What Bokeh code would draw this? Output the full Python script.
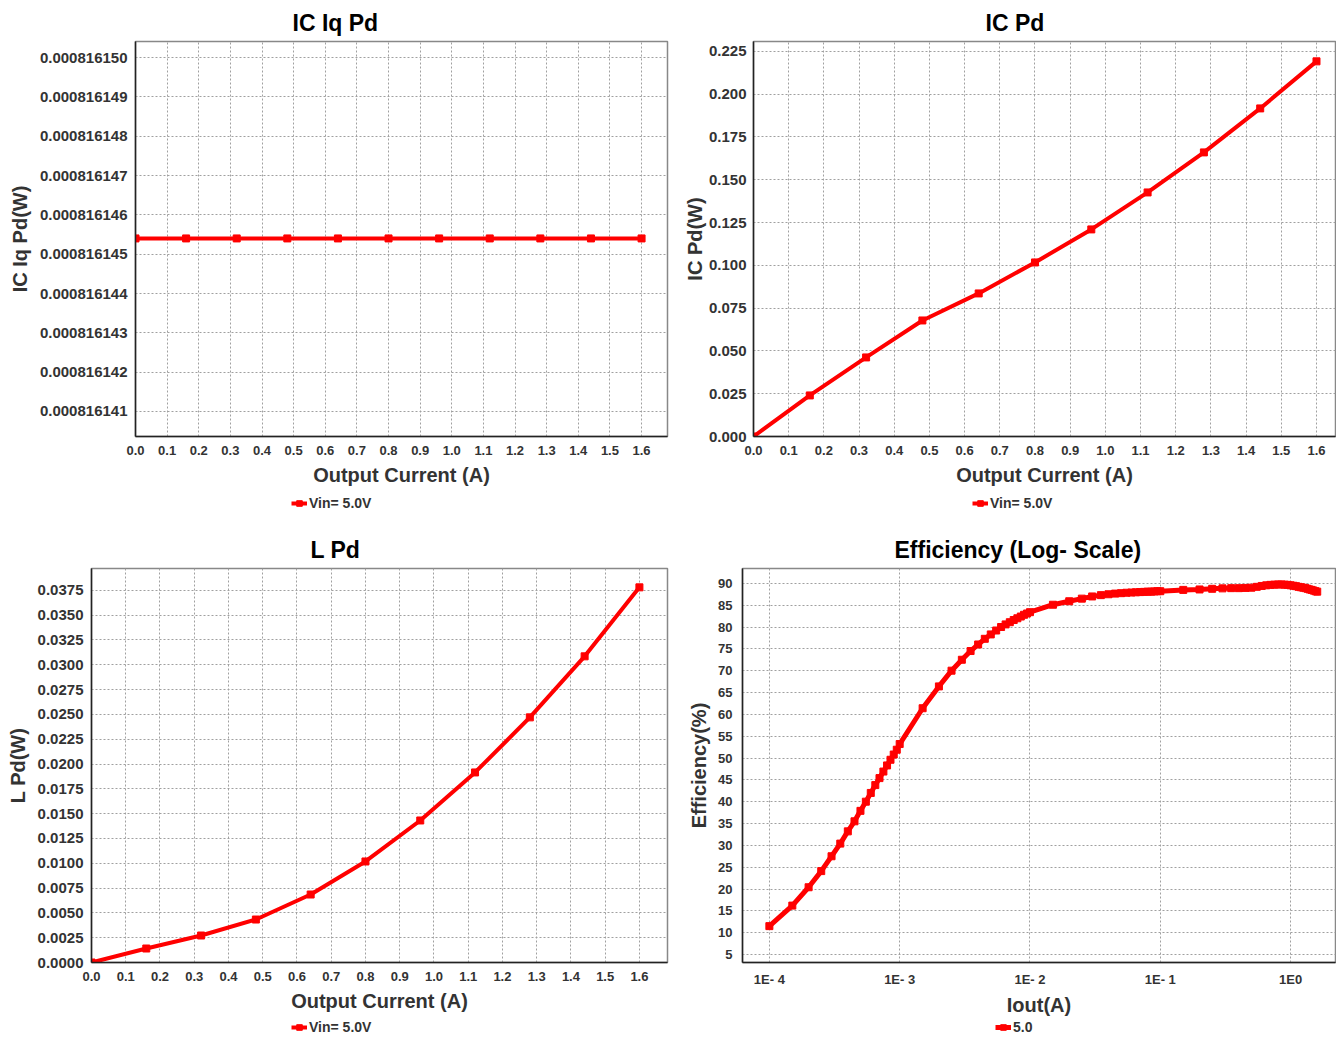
from bokeh.plotting import figure
from bokeh.models import (FixedTicker, PrintfTickFormatter, CustomJSTickFormatter,
                          Legend, LegendItem, Range1d)
from bokeh.layouts import column, row
from bokeh.embed import file_html
from bokeh.resources import INLINE

FONT = "Liberation Sans"
RED = "#ff0000"
TXT = "#333333"

# ---------------- data ----------------
iout = [0.0, 0.16, 0.32, 0.48, 0.64, 0.80, 0.96, 1.12, 1.28, 1.44, 1.60]
ic_iq_pd = [0.0008161454, 0.0008161454, 0.0008161454, 0.0008161454, 0.0008161454,
            0.0008161454, 0.0008161454, 0.0008161454, 0.0008161454, 0.0008161454,
            0.0008161454]
ic_pd = [0.0, 0.0240, 0.0462, 0.0678, 0.0836, 0.1017, 0.1210, 0.1426, 0.1660, 0.1917, 0.2192]
l_pd = [0.0, 0.00141, 0.00272, 0.00433, 0.00685, 0.01018, 0.01431, 0.01915, 0.0247, 0.03085, 0.0378]

eff_iout = [1.0e-4, 1.5e-4, 2.0e-4, 2.5e-4, 3.0e-4, 3.5e-4, 4.0e-4, 4.5e-4, 5.0e-4,
            5.5e-4, 6.0e-4, 6.5e-4, 7.0e-4, 7.5e-4, 8.0e-4, 8.5e-4, 9.0e-4, 9.5e-4,
            1.0e-3, 1.5e-3, 2.0e-3, 2.5e-3, 3.0e-3, 3.5e-3, 4.0e-3, 4.5e-3, 5.0e-3,
            5.5e-3, 6.0e-3, 6.5e-3, 7.0e-3, 7.5e-3, 8.0e-3, 8.5e-3, 9.0e-3, 9.5e-3,
            1.0e-2, 1.5e-2, 2.0e-2, 2.5e-2, 3.0e-2, 3.5e-2, 4.0e-2, 4.5e-2, 5.0e-2,
            5.5e-2, 6.0e-2, 6.5e-2, 7.0e-2, 7.5e-2, 8.0e-2, 8.5e-2, 9.0e-2, 9.5e-2,
            0.10, 0.15, 0.20, 0.25, 0.30, 0.35, 0.40, 0.45,
            0.50, 0.55, 0.60, 0.65, 0.70, 0.75, 0.80, 0.85, 0.90, 0.95, 1.00, 1.05,
            1.10, 1.15, 1.20, 1.25, 1.30, 1.35, 1.40, 1.45, 1.50, 1.55, 1.60]
eff = [11.5, 16.2, 20.4, 24.1, 27.5, 30.4, 33.2, 35.5, 37.9,
       40.0, 42.0, 43.8, 45.4, 46.9, 48.3, 49.6, 50.8, 51.9,
       53.2, 61.4, 66.4, 70.0, 72.5, 74.5, 76.0, 77.3, 78.3,
       79.2, 80.0, 80.6, 81.1, 81.6, 82.0, 82.4, 82.8, 83.1,
       83.4, 85.1, 85.9, 86.5, 87.0, 87.3, 87.5, 87.65, 87.75,
       87.85, 87.9, 87.95, 88.0, 88.05, 88.1, 88.1, 88.15, 88.2,
       88.2, 88.5, 88.6, 88.75, 88.85, 88.9, 88.9, 88.95,
       89.0, 89.2, 89.4, 89.55, 89.65, 89.7, 89.75, 89.75, 89.7, 89.65, 89.55, 89.45,
       89.35, 89.2, 89.1, 89.0, 88.9, 88.75, 88.6, 88.5, 88.35, 88.2, 88.1]

x_ticks_lin = [0.0, 0.1, 0.2, 0.3, 0.4, 0.5, 0.6, 0.7, 0.8, 0.9, 1.0, 1.1, 1.2, 1.3, 1.4, 1.5, 1.6]
iq_ticks = [0.000816141, 0.000816142, 0.000816143, 0.000816144, 0.000816145,
            0.000816146, 0.000816147, 0.000816148, 0.000816149, 0.000816150]
icpd_ticks = [0.0, 0.025, 0.05, 0.075, 0.1, 0.125, 0.15, 0.175, 0.2, 0.225]
lpd_ticks = [0.0, 0.0025, 0.005, 0.0075, 0.01, 0.0125, 0.015, 0.0175, 0.02, 0.0225,
             0.025, 0.0275, 0.03, 0.0325, 0.035, 0.0375]
eff_ticks = [5, 10, 15, 20, 25, 30, 35, 40, 45, 50, 55, 60, 65, 70, 75, 80, 85, 90]
log_ticks = [1e-4, 1e-3, 1e-2, 1e-1, 1.0]
log_labels = ["1E- 4", "1E- 3", "1E- 2", "1E- 1", "1E0"]


def make_fig(width, height, bl, br, bt, bb, xr, yr, title, toff, x_type="linear"):
    p = figure(width=width, height=height, x_range=xr, y_range=yr,
               x_axis_type=x_type, output_backend="svg", toolbar_location=None,
               min_border_left=bl, min_border_right=br, min_border_top=bt,
               min_border_bottom=bb, title=title)
    p.title.align = "left"
    p.title.offset = toff
    p.title.text_font = FONT
    p.title.text_font_style = "bold"
    p.title.text_font_size = "23px"
    p.title.text_color = "black"
    p.title.standoff = 12
    p.background_fill_color = "white"
    p.outline_line_color = "#888888"
    p.outline_line_width = 1.5
    for ax in (p.xaxis[0], p.yaxis[0]):
        ax.axis_line_color = "#222222"
        ax.axis_line_width = 1.5
        ax.major_tick_line_color = None
        ax.minor_tick_line_color = None
        ax.major_tick_out = 0
        ax.major_tick_in = 0
        ax.minor_tick_out = 0
        ax.minor_tick_in = 0
        ax.major_label_text_font = FONT
        ax.major_label_text_font_style = "bold"
        ax.major_label_text_color = TXT
        ax.major_label_text_font_size = "13px"
        ax.axis_label_text_font = FONT
        ax.axis_label_text_font_style = "bold"
        ax.axis_label_text_color = TXT
        ax.axis_label_text_font_size = "20px"
    p.xaxis.major_label_standoff = 9
    p.xaxis.axis_label_standoff = 6
    p.yaxis.major_label_standoff = 8
    p.yaxis.axis_label_standoff = 6
    for g in (p.xgrid[0], p.ygrid[0]):
        g.grid_line_color = "#a0a0a0"
        g.grid_line_dash = "2 2"
        g.grid_line_width = 1
    return p


def add_series(p, xs, ys, lw=4, ms=7):
    p.line(xs, ys, line_color=RED, line_width=lw)
    p.scatter(xs, ys, marker="square", size=ms, fill_color=RED, line_color=RED)


def legend_strip(width, height, xs, ys, label, lx, vy, lw=4, ms=7):
    # legend-only strip: the series is drawn outside the visible range, only its key shows
    s = figure(width=width, height=height, x_range=Range1d(100, 101), y_range=Range1d(100, 101),
               x_axis_location=None, y_axis_location=None, output_backend="svg",
               toolbar_location=None, min_border=0)
    s.grid.visible = False
    s.outline_line_color = None
    s.background_fill_color = "white"
    rl = s.line(xs, ys, line_color=RED, line_width=lw)
    rs = s.scatter(xs, ys, marker="square", size=ms, fill_color=RED, line_color=RED)
    leg = Legend(items=[LegendItem(label=label, renderers=[rl, rs])],
                 location=(lx, vy), orientation="horizontal",
                 background_fill_alpha=0, border_line_alpha=0, padding=0, margin=0,
                 label_text_font=FONT, label_text_font_style="bold",
                 label_text_font_size="14px", label_text_color=TXT,
                 glyph_width=16, glyph_height=14, label_standoff=2, label_height=16)
    s.add_layout(leg)
    return s


W_L, W_R = 680, 656
H_T, H_B = 492, 504

# ---------------- top-left: IC Iq Pd ----------------
p1 = make_fig(W_L, H_T, 135, 13, 41, 56,
              Range1d(0, 1.682), Range1d(0.0008161403644, 0.0008161504068),
              "IC Iq Pd", 157)
p1.xaxis.ticker = FixedTicker(ticks=x_ticks_lin)
p1.xgrid.ticker = FixedTicker(ticks=x_ticks_lin)
p1.xaxis.formatter = PrintfTickFormatter(format="%.1f")
p1.yaxis.ticker = FixedTicker(ticks=iq_ticks)
p1.ygrid.ticker = FixedTicker(ticks=iq_ticks)
p1.yaxis.formatter = PrintfTickFormatter(format="%.9f")
p1.yaxis.major_label_text_font_size = "15px"
p1.xaxis.axis_label = "Output Current (A)"
p1.yaxis.axis_label = "IC Iq Pd(W)"
add_series(p1, iout, ic_iq_pd)

# ---------------- top-right: IC Pd ----------------
p2 = make_fig(W_R, H_T, 73, 1, 41, 56, Range1d(0, 1.654), Range1d(0, 0.2308),
              "IC Pd", 232)
p2.xaxis.ticker = FixedTicker(ticks=x_ticks_lin)
p2.xgrid.ticker = FixedTicker(ticks=x_ticks_lin)
p2.xaxis.formatter = PrintfTickFormatter(format="%.1f")
p2.yaxis.ticker = FixedTicker(ticks=icpd_ticks)
p2.ygrid.ticker = FixedTicker(ticks=icpd_ticks)
p2.yaxis.formatter = PrintfTickFormatter(format="%.3f")
p2.yaxis.major_label_text_font_size = "15px"
p2.yaxis.major_label_standoff = 7
p2.yaxis.axis_label_standoff = 0
p2.xaxis.axis_label = "Output Current (A)"
p2.yaxis.axis_label = "IC Pd(W)"
add_series(p2, iout, ic_pd)

# ---------------- bottom-left: L Pd ----------------
p3 = make_fig(W_L, H_B, 91, 13, 54, 56, Range1d(0, 1.682), Range1d(0, 0.0397),
              "L Pd", 219)
p3.xaxis.ticker = FixedTicker(ticks=x_ticks_lin)
p3.xgrid.ticker = FixedTicker(ticks=x_ticks_lin)
p3.xaxis.formatter = PrintfTickFormatter(format="%.1f")
p3.yaxis.ticker = FixedTicker(ticks=lpd_ticks)
p3.ygrid.ticker = FixedTicker(ticks=lpd_ticks)
p3.yaxis.formatter = PrintfTickFormatter(format="%.4f")
p3.yaxis.major_label_text_font_size = "15px"
p3.xaxis.axis_label = "Output Current (A)"
p3.yaxis.axis_label = "L Pd(W)"
add_series(p3, iout, l_pd)

# ---------------- bottom-right: Efficiency ----------------
p4 = make_fig(W_R, H_B, 62, 1, 54, 56, Range1d(6.22e-5, 2.21), Range1d(3.17, 93.4),
              "Efficiency (Log- Scale)", 152, x_type="log")
p4.xaxis.ticker = FixedTicker(ticks=log_ticks)
p4.xgrid.ticker = FixedTicker(ticks=log_ticks)
p4.xaxis.formatter = CustomJSTickFormatter(args=dict(tvals=log_ticks, tlabels=log_labels), code="""
    let best = 0, bd = 1e9;
    for (let i = 0; i < tvals.length; i++) {
        const d = Math.abs(Math.log10(tvals[i]) - Math.log10(tick));
        if (d < bd) { bd = d; best = i; }
    }
    return tlabels[best];
""")
p4.yaxis.ticker = FixedTicker(ticks=eff_ticks)
p4.ygrid.ticker = FixedTicker(ticks=eff_ticks)
p4.yaxis.major_label_standoff = 10
p4.yaxis.axis_label_standoff = 5
p4.xaxis.axis_label_standoff = 4
p4.xaxis.axis_label = "Iout(A)"
p4.yaxis.axis_label = "Efficiency(%)"
add_series(p4, eff_iout, eff, lw=5, ms=7)

# ---------------- legend strips ----------------
l1 = legend_strip(W_L, 22, iout, ic_iq_pd, "Vin= 5.0V", 291, 3)
l2 = legend_strip(W_R, 22, iout, ic_pd, "Vin= 5.0V", 292, 3)
l3 = legend_strip(W_L, 18, iout, l_pd, "Vin= 5.0V", 291, 1)
l4 = legend_strip(W_R, 18, eff_iout, eff, "5.0", 315, 1, lw=5, ms=7)

layout = column(row(p1, p2), row(l1, l2), row(p3, p4), row(l3, l4))
open("out.html", "w").write(file_html(layout, INLINE))
